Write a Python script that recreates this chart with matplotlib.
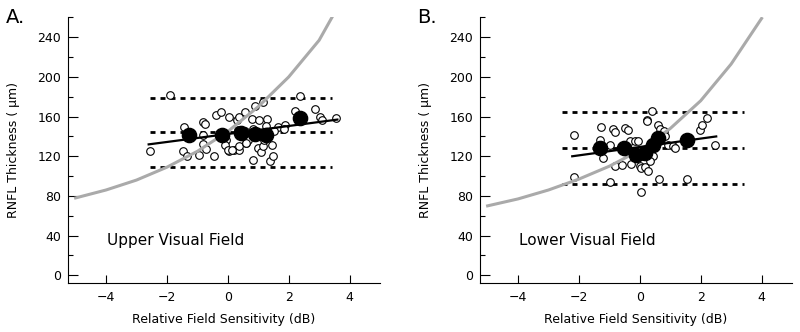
import numpy as np
import matplotlib.pyplot as plt
from matplotlib.ticker import MultipleLocator

plt.rcParams['font.family'] = ['DejaVu Sans']

# ---- Panel A: upper visual field ----
upper_x = [-2.55, -1.91, -1.44, -1.48, -1.33, -0.93, -0.80, -0.74, -0.83, -0.71, -0.80, -0.44,
           -0.40, -0.21, 0.05, 0.30, 0.38, 0.58, 0.89, 1.15, 0.79, 1.04, 1.28, 0.03, 0.19, 0.38,
           0.38, 0.61, 0.98, 1.09, 0.82, 1.39, 1.50, 1.45, 1.26, 1.64, 1.88, 1.83, 2.22,
           2.38, 2.87, 3.03, 3.11, 3.57, -0.05, -0.10, 0.66, 1.15, 0.82, 0.33, 0.55, 1.26,
           1.20, 0.00, 0.14, 1.53, 0.60]
upper_y = [125, 182, 150, 125, 120, 121, 155, 153, 132, 127, 141, 120,
           162, 165, 160, 157, 160, 165, 171, 175, 158, 157, 158, 125, 126, 126,
           130, 133, 128, 124, 116, 115, 120, 131, 151, 150, 152, 148, 166,
           181, 168, 160, 157, 159, 136, 131, 136, 130, 148, 147, 145, 143,
           136, 126, 126, 145, 133]
upper_mean_x = [-1.26, -0.20, 0.42, 0.90, 1.26, 2.38]
upper_mean_y = [141, 141, 143, 142, 141, 159]
upper_fit_x = [-2.6, 3.6]
upper_fit_y = [132, 157]
upper_limits = [179, 144, 109]
upper_curve_x = [-5, -4, -3, -2, -1, 0, 1, 2, 3, 3.42]
upper_curve_y = [78, 86, 96, 109, 125, 145, 170, 200, 237, 260]

# ---- Panel B: lower visual field ----
lower_x = [-2.16, -2.16, -1.26, -1.31, -1.20, -0.98, -0.98, -0.87, -0.82, -0.80, -0.60, -0.49,
           -0.38, -0.30, -0.33, -0.16, -0.06, 0.03, 0.00, 0.05, 0.18, 0.27, 0.41, 0.22, 0.25,
           0.60, 0.66, 0.80, 0.84, 0.44, 0.33, 0.62, 0.93, 1.09, 1.15, 0.11, 1.54, 1.99,
           2.04, 2.22, 2.48, 0.38]
lower_y = [141, 99, 150, 136, 118, 131, 94, 148, 144, 110, 111, 149,
           146, 112, 135, 135, 135, 84, 110, 108, 109, 105, 166, 157, 156,
           152, 148, 145, 140, 120, 115, 97, 131, 130, 128, 120, 97, 147,
           152, 159, 131, 133]
lower_mean_x = [-1.31, -0.52, -0.11, 0.18, 0.44, 0.60, 1.56]
lower_mean_y = [128, 128, 121, 123, 131, 138, 136]
lower_fit_x = [-2.22, 2.51]
lower_fit_y = [120, 140]
lower_limits = [165, 128, 92]
lower_curve_x = [-5, -4, -3, -2, -1, 0, 1, 2, 3, 4]
lower_curve_y = [70, 77, 86, 97, 110, 126, 148, 176, 213, 259]

limit_x = [-2.57, 3.42]

panels = [
    ('A.', 'Upper Visual Field', upper_x, upper_y, upper_mean_x, upper_mean_y,
     upper_fit_x, upper_fit_y, upper_limits, upper_curve_x, upper_curve_y),
    ('B.', 'Lower Visual Field', lower_x, lower_y, lower_mean_x, lower_mean_y,
     lower_fit_x, lower_fit_y, lower_limits, lower_curve_x, lower_curve_y),
]

fig = plt.figure(figsize=(8, 3.32), dpi=100)
lefts = [0.085, 0.6]

for left, (tag, name, ox, oy, mx, my, fx, fy, lims, cx, cy) in zip(lefts, panels):
    ax = fig.add_axes([left, 0.1476, 0.39, 0.801])

    # dashed mean / limit lines
    for lv in lims:
        ax.plot(limit_x, [lv, lv], color='black', lw=2.0, linestyle=(0, (1.8, 1.8)), zorder=2)

    ax.scatter(ox, oy, s=30, facecolors='white', edgecolors='black', linewidths=0.8, zorder=3)
    ax.plot(cx, cy, color='#aaaaaa', lw=2.2, zorder=4)
    ax.plot(fx, fy, color='black', lw=1.6, zorder=5)
    ax.scatter(mx, my, s=105, color='black', zorder=6)

    ax.text(-3.97, 35, name, fontsize=11, va='center', ha='left')

    ax.set_xlim(-5.25, 5)
    ax.set_ylim(-7.8, 260.4)
    ax.set_xticks([-4, -2, 0, 2, 4])
    ax.yaxis.set_major_locator(MultipleLocator(40))
    ax.yaxis.set_minor_locator(MultipleLocator(20))
    ax.tick_params(axis='x', direction='in', length=6, width=0.8, pad=6, labelsize=9)
    ax.tick_params(axis='y', which='major', direction='in', length=7, width=0.8, pad=5, labelsize=9)
    ax.tick_params(axis='y', which='minor', direction='in', length=3.5, width=0.8)
    for sp in ['top', 'right']:
        ax.spines[sp].set_visible(False)
    for sp in ['left', 'bottom']:
        ax.spines[sp].set_linewidth(0.8)

    ax.set_xlabel('Relative Field Sensitivity (dB)', fontsize=9)
    ax.set_ylabel('RNFL Thickness ( μm)', fontsize=9)
    ax.xaxis.set_label_coords(0.5, -0.112)
    ax.yaxis.set_label_coords(-0.155, 0.5)

    ax.text(-0.2, 1.0, tag, transform=ax.transAxes, fontsize=14, ha='left', va='center')

fig.savefig('out.png', dpi=100)
